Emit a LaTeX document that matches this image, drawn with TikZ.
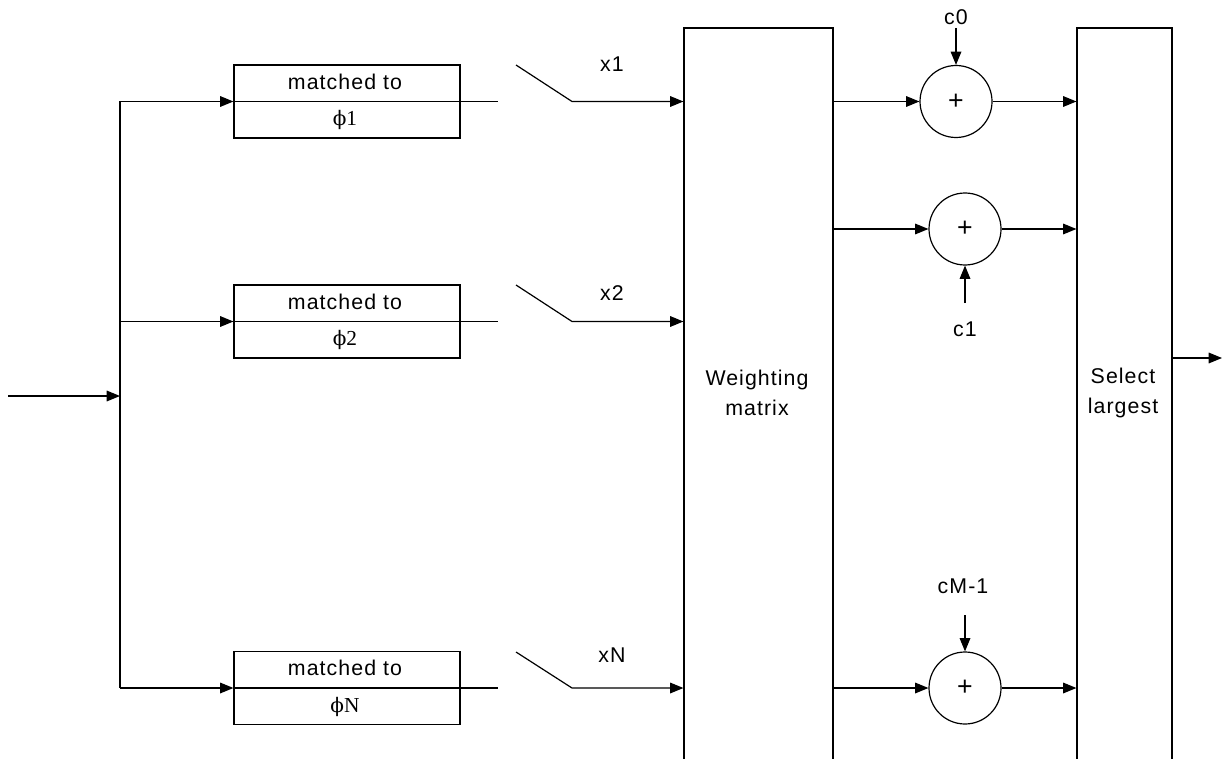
\documentclass[tikz,border=0pt]{standalone}
\usepackage{fontspec}
\setmainfont{Liberation Sans}
\newfontfamily\lsans[LetterSpace=5]{Liberation Sans}
\newfontfamily\phifont{DejaVu Serif}
\newfontfamily\phinum{Liberation Serif}
\usetikzlibrary{arrows.meta}
\begin{document}
\begin{tikzpicture}[x=0.75pt,y=-0.75pt,
  line width=0.9pt,
  arr/.style={-{Triangle[length=10pt,width=8pt]}},
  mbox/.style={draw, minimum width=169.5pt, minimum height=54.75pt, inner sep=0pt},
  big/.style={draw, inner sep=0pt, minimum height=579pt},
  adder/.style={draw, circle, minimum size=54pt, inner sep=0pt, font=\lsans\fontsize{20}{22}\selectfont},
  lbl/.style={inner sep=0pt, font=\lsans\fontsize{16}{18}\selectfont},
  blk/.style={inner sep=0pt, align=center, font=\lsans\fontsize{16}{22.5}\selectfont},
  phl/.style={inner sep=0pt, font=\phinum\fontsize{16}{18}\selectfont},
  ]
\clip (0,0) rectangle (1223,759);
% input and bus
\coordinate (in) at (8,396);
\coordinate (bus) at (120,396);
% matched filter boxes
\node[mbox] (m1) at (347,101.5) {};
\node[mbox] (m2) at (347,321.5) {};
\node[mbox] (mN) at (347,688) {};
\node[lbl] (t1) at (345,82) {matched to};
\node[lbl] (t2) at (345,302) {matched to};
\node[lbl] (tN) at (345,668) {matched to};
\node[phl] (p1) at (345,120) {{\phifont\fontsize{15}{18}\selectfont ϕ}1};
\node[phl] (p2) at (345,340) {{\phifont\fontsize{15}{18}\selectfont ϕ}2};
\node[phl] (pN) at (345,707) {{\phifont\fontsize{15}{18}\selectfont ϕ}N};
% big blocks
\node[big, minimum width=111.75pt] (W) at (758.5,414) {};
\node[big, minimum width=71.25pt] (S) at (1124.5,414) {};
\node[blk] (Wt) at (757,393) {Weighting\\matrix};
\node[blk] (St) at (1123,393) {Select\\largest};
% switch coordinates
\coordinate (e1) at (498,101.5);
\coordinate (s1) at (516,65);
\coordinate (k1) at (572,101.5);
\coordinate (e2) at (498,321.5);
\coordinate (s2) at (516,285);
\coordinate (k2) at (572,321.5);
\coordinate (eN) at (498,688);
\coordinate (sN) at (516,652);
\coordinate (kN) at (572,688);
\node[lbl] (x1) at (612,64) {x1};
\node[lbl] (x2) at (612,293) {x2};
\node[lbl] (xN) at (612,655) {xN};
% adders
\node[adder] (a1) at (956,101.5) {+};
\node[adder] (a2) at (965,229) {+};
\node[adder] (aM) at (965,688) {+};
\node[lbl] (c0) at (956,17) {c0};
\node[lbl] (c1) at (965,329) {c1};
\node[lbl] (cM) at (963,586) {cM-1};
\coordinate (c0t) at (956,28);
\coordinate (c1t) at (965,303);
\coordinate (cMt) at (965,615);
\coordinate (out) at (1222,358);
% connectors
\draw[arr] (in) -- (bus);
\draw (m1.west -| bus) -- (mN.west -| bus);
\draw[arr] (m1.west -| bus) -- (m1.west);
\draw[arr] (m2.west -| bus) -- (m2.west);
\draw[arr] (mN.west -| bus) -- (mN.west);
\draw (m1.west) -- (e1);
\draw (m2.west) -- (e2);
\draw (mN.west) -- (eN);
\draw[arr] (s1) -- (k1) -- (k1 -| W.west);
\draw[arr] (s2) -- (k2) -- (k2 -| W.west);
\draw[arr] (sN) -- (kN) -- (kN -| W.west);
\draw[arr] (a1.west -| W.east) -- (a1.west);
\draw[arr] (a2.west -| W.east) -- (a2.west);
\draw[arr] (aM.west -| W.east) -- (aM.west);
\draw[arr] (a1.east) -- (a1.east -| S.west);
\draw[arr] (a2.east) -- (a2.east -| S.west);
\draw[arr] (aM.east) -- (aM.east -| S.west);
\draw[arr] (c0t) -- (a1.north);
\draw[arr] (c1t) -- (a2.south);
\draw[arr] (cMt) -- (aM.north);
\draw[arr] (out -| S.east) -- (out);
\end{tikzpicture}
\end{document}
